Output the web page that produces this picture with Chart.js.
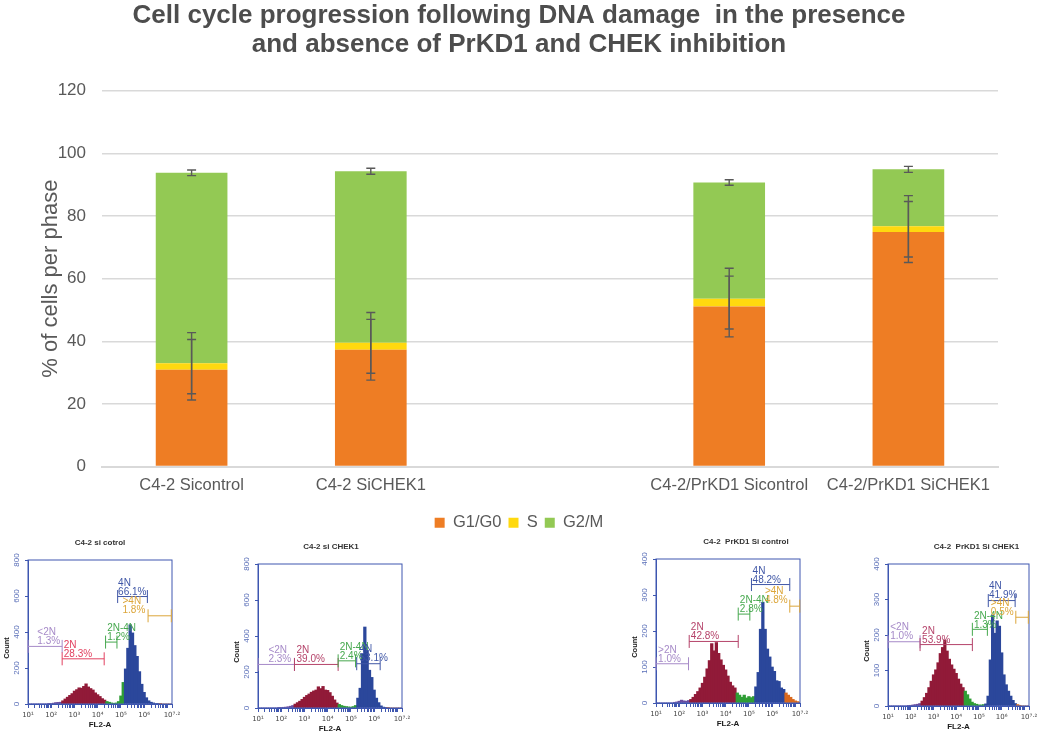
<!DOCTYPE html>
<html>
<head>
<meta charset="utf-8">
<title>Cell cycle progression</title>
<script src="https://cdn.jsdelivr.net/npm/chart.js@4"></script>
<style>
body { margin: 0; background: #fff; }
canvas { position: absolute; }
.hist { filter: blur(0.3px); }
</style>
</head>
<body>
<canvas id="mainChart" width="1040" height="541" style="left:0;top:0"></canvas>
<canvas id="hist1" class="hist"></canvas>
<canvas id="hist2" class="hist"></canvas>
<canvas id="hist3" class="hist"></canvas>
<canvas id="hist4" class="hist"></canvas>
<script>
"use strict";

const categories = ["C4-2 Sicontrol", "C4-2 SiCHEK1", "", "C4-2/PrKD1 Sicontrol", "C4-2/PrKD1 SiCHEK1"];
const g1Values = [30.9, 37.3, null, 51.1, 74.9];
const sValues = [2.1, 2.2, null, 2.5, 1.8];
const g2Values = [60.8, 54.8, null, 37.1, 18.2];
const g1Errors = [9.65, 9.7, null, 9.7, 9.75];
const sErrors = [9.75, 9.7, null, 9.7, 9.8];
const g2Errors = [0.9, 0.95, null, 0.9, 0.95];

const histBins = [
    1.0, 1.1, 1.2, 1.3, 1.4, 1.5, 1.6, 1.7, 1.8, 1.9,
    2.0, 2.1, 2.2, 2.3, 2.4, 2.5, 2.6, 2.7, 2.8, 2.9,
    3.0, 3.1, 3.2, 3.3, 3.4, 3.5, 3.6, 3.7, 3.8, 3.9,
    4.0, 4.1, 4.2, 4.3, 4.4, 4.5, 4.6, 4.7, 4.8, 4.9,
    5.0, 5.1, 5.2, 5.3, 5.4, 5.5, 5.6, 5.7, 5.8, 5.9,
    6.0, 6.1, 6.2, 6.3, 6.4, 6.5, 6.6, 6.7, 6.8, 6.9,
    7.0, 7.1, 7.2
];
const siControlCounts = [
    0, 0, 0, 0, 0, 0, 0, 0, 0, 1,
    3, 5, 8, 9, 10, 18, 28, 38, 48, 58,
    72, 80, 90, 88, 98, 112, 95, 86, 78, 62,
    52, 42, 30, 22, 14, 10, 6, 4, 6, 14,
    45, 120, 195, 310, 440, 395, 325, 265, 180, 110,
    65, 35, 18, 10, 6, 3, 2, 1, 0, 0,
    0, 0, 0
];
const siChekCounts = [
    0, 0, 0, 0, 0, 0, 0, 0, 0, 1,
    2, 4, 5, 7, 10, 14, 22, 30, 38, 48,
    60, 70, 78, 88, 95, 100, 118, 108, 120, 100,
    98, 86, 66, 45, 28, 20, 14, 10, 8, 6,
    5, 8, 14, 55, 110, 300, 450, 320, 210, 170,
    100, 55, 30, 12, 5, 2, 1, 0, 0, 0,
    0, 0, 0
];
const prkdControlCounts = [
    0, 0, 0, 0, 0, 0, 0, 0, 2, 3,
    5, 8, 6, 5, 7, 10, 16, 24, 32, 42,
    55, 72, 95, 118, 165, 145, 168, 138, 120, 105,
    92, 75, 58, 48, 42, 28, 22, 16, 22, 14,
    18, 15, 18, 45, 85, 205, 280, 205, 150, 128,
    100, 88, 62, 60, 42, 38, 28, 22, 16, 10,
    6, 4, 2
];
const prkdChekCounts = [
    0, 0, 0, 0, 0, 0, 0, 0, 0, 1,
    2, 3, 4, 5, 7, 14, 24, 36, 52, 70,
    88, 102, 122, 148, 165, 186, 155, 132, 116, 104,
    92, 76, 62, 52, 42, 32, 20, 11, 7, 5,
    3, 3, 4, 6, 28, 130, 255, 205, 240, 225,
    150, 88, 60, 42, 28, 16, 7, 4, 2, 0,
    0, 0, 0
];

// where the fill changes: sub-2N, 2N, 2N-4N, 4N, then >4N
const siControlRegions = [2.47, 4.4, 5.15, 6.7];
const siChekRegions = [2.55, 4.42, 5.22, 6.6];
const prkdControlRegions = [2.47, 4.42, 5.25, 6.6];
const prkdChekRegions = [2.42, 4.4, 5.3, 6.7];

// gate: [name, percent, from, to, level, label x, label y]
const siControlGates = [
    ["<2N", "1.3%", 1.0, 2.47, 320, 1.4, 333],
    ["2N", "28.3%", 2.47, 4.28, 251, 2.54, 262],
    ["2N-4N", "1.2%", 4.34, 4.83, 344, 4.41, 358],
    ["4N", "66.1%", 4.86, 6.14, 597, 4.88, 606],
    [">4N", "1.8%", 6.17, 7.17, 490, 5.07, 504]
];
const siChekGates = [
    ["<2N", "2.3%", 1.0, 2.57, 242, 1.45, 255],
    ["2N", "39.0%", 2.57, 4.45, 242, 2.66, 255],
    ["2N-4N", "2.4%", 4.45, 5.2, 262, 4.52, 272],
    ["4N", "53.1%", 5.25, 6.26, 246, 5.37, 259]
];
const prkdControlGates = [
    [">2N", "1.0%", 1.0, 2.4, 109, 1.09, 115],
    ["2N", "42.8%", 2.43, 4.54, 171, 2.5, 177],
    ["2N-4N", "2.8%", 4.54, 5.04, 247, 4.61, 253],
    ["4N", "48.2%", 5.11, 6.76, 329, 5.16, 334],
    [">4N", "4.8%", 6.76, 7.19, 269, 5.69, 278]
];
const prkdChekGates = [
    ["<2N", "1.0%", 1.0, 2.41, 181, 1.1, 188],
    ["2N", "53.9%", 2.41, 4.71, 173, 2.5, 178],
    ["2N-4N", "1.3%", 4.71, 5.37, 216, 4.78, 221],
    ["4N", "41.9%", 5.41, 6.59, 297, 5.44, 304],
    [">4N", "0.5%", 6.62, 7.17, 250, 5.52, 256]
];

const decadeTicks = [1, 2, 3, 4, 5, 6, 7.2];
const decadeLabels = ["10¹", "10²", "10³", "10⁴", "10⁵", "10⁶", "10⁷·²"];

const gateColors = { "<2N": "#a68ac8", ">2N": "#a68ac8", "2N": "#b5436a", "2N-4N": "#46a84e", "4N": "#3f56a6", ">4N": "#dca63a" };
const fillColors = ["#6a4da0", "#911a38", "#2f9e35", "#2b479b", "#d9691e"];
const axisBlue = "#3f57b0";

const errorBars = {
    id: "errorBars",
    afterDatasetsDraw(chart) {
        const { ctx, scales } = chart;
        const capHalf = 4.5;
        const errorSets = [g1Errors, sErrors, g2Errors];
        const bars = chart.getDatasetMeta(0).data;
        ctx.save();
        ctx.strokeStyle = "#595959";
        ctx.lineWidth = 1.4;
        categories.forEach((name, i) => {
            if (!name) return;
            let level = 0;
            [g1Values, sValues, g2Values].forEach((series, k) => {
                level += series[i];
                const x = bars[i].x;
                const top = scales.y.getPixelForValue(level + errorSets[k][i]);
                const bottom = scales.y.getPixelForValue(level - errorSets[k][i]);
                ctx.beginPath();
                ctx.moveTo(x, top);
                ctx.lineTo(x, bottom);
                ctx.moveTo(x - capHalf, top);
                ctx.lineTo(x + capHalf, top);
                ctx.moveTo(x - capHalf, bottom);
                ctx.lineTo(x + capHalf, bottom);
                ctx.stroke();
            });
        });
        ctx.restore();
    }
};

new Chart(document.getElementById("mainChart"), {
    type: "bar",
    data: {
        labels: categories,
        datasets: [
            { label: "G1/G0", data: g1Values, backgroundColor: "#EE7D24" },
            { label: "S", data: sValues, backgroundColor: "#FFD90F" },
            { label: "G2/M", data: g2Values, backgroundColor: "#93C954" }
        ]
    },
    options: {
        responsive: false,
        animation: false,
        datasets: { bar: { barPercentage: 0.4, categoryPercentage: 1 } },
        layout: { padding: { top: 0, right: 42, bottom: 0, left: 40 } },
        plugins: {
            title: {
                display: true,
                text: ["Cell cycle progression following DNA damage  in the presence", "and absence of PrKD1 and CHEK inhibition"],
                color: "#4d4d4d",
                font: { family: "Liberation Sans", size: 26, weight: "bold", lineHeight: 1.13 },
                padding: { top: 1, bottom: 31 }
            },
            legend: {
                position: "bottom",
                labels: {
                    color: "#595959",
                    font: { family: "Liberation Sans", size: 16.5 },
                    boxWidth: 10,
                    boxHeight: 10,
                    padding: 7
                }
            },
            tooltip: { enabled: false }
        },
        scales: {
            x: {
                stacked: true,
                grid: { display: false },
                border: { color: "#d9d9d9", width: 2 },
                ticks: {
                    color: "#595959",
                    padding: 1,
                    font: { family: "Liberation Sans", size: 16.5 },
                    maxRotation: 0,
                    autoSkip: false
                },
                afterFit: (scale) => { scale.height = 41; }
            },
            y: {
                stacked: true,
                min: 0,
                max: 120,
                grid: { color: "#d9d9d9", lineWidth: 1.5, drawTicks: false },
                border: { display: false },
                ticks: {
                    stepSize: 20,
                    color: "#595959",
                    padding: 16,
                    font: { family: "Liberation Sans", size: 17 }
                },
                title: {
                    display: true,
                    text: "% of cells per phase",
                    color: "#595959",
                    font: { family: "Liberation Sans", size: 22, lineHeight: 1 },
                    padding: { top: 0, bottom: 0 }
                },
                afterFit: (scale) => { scale.width = 62; }
            }
        }
    },
    plugins: [errorBars]
});

// gates and their labels, the plot frame, rotated count ticks and the off-centre headings
const histOverlay = {
    id: "histOverlay",
    afterDatasetsDraw(chart, args, opts) {
        const { ctx, chartArea, scales } = chart;
        const middleX = (chartArea.left + chartArea.right) / 2;
        ctx.save();
        ctx.strokeStyle = axisBlue;
        ctx.lineWidth = 1;
        ctx.strokeRect(chartArea.left, chartArea.top, chartArea.width, chartArea.height);
        ctx.font = "10px 'Liberation Sans'";
        opts.gates.forEach(([name, pct, from, to, level, labelX, labelY]) => {
            const color = name === "2N" && opts.brightRed ? "#e2405f" : gateColors[name];
            const left = scales.x.getPixelForValue(from);
            const right = scales.x.getPixelForValue(to);
            const y = scales.y.getPixelForValue(level);
            ctx.strokeStyle = color;
            ctx.fillStyle = color;
            ctx.beginPath();
            ctx.moveTo(left, y);
            ctx.lineTo(right, y);
            ctx.moveTo(left, y - 6.5);
            ctx.lineTo(left, y + 6.5);
            ctx.moveTo(right, y - 6.5);
            ctx.lineTo(right, y + 6.5);
            ctx.stroke();
            const textX = scales.x.getPixelForValue(labelX);
            const textY = scales.y.getPixelForValue(labelY);
            ctx.fillText(name, textX, textY - 9);
            ctx.fillText(pct, textX, textY);
        });

        ctx.textAlign = "center";
        ctx.fillStyle = "#333";
        ctx.font = "bold 8px 'Liberation Sans'";
        ctx.fillText(opts.heading, middleX + opts.headingShift, chartArea.top - 15);

        ctx.font = "8px 'Liberation Sans'";
        ctx.fillStyle = "#5a6fb8";
        ctx.textBaseline = "middle";
        scales.y.ticks.forEach((tick) => {
            ctx.save();
            ctx.translate(chartArea.left - 11, scales.y.getPixelForValue(tick.value));
            ctx.rotate(-Math.PI / 2);
            ctx.fillText(tick.label, 0, 0);
            ctx.restore();
        });

        ctx.fillStyle = "#1a1a1a";
        ctx.font = "bold 7.5px 'Liberation Sans'";
        ctx.textBaseline = "alphabetic";
        ctx.translate(chartArea.left - 19.5, (chartArea.top + chartArea.bottom) / 2 + 16);
        ctx.rotate(-Math.PI / 2);
        ctx.fillText("Count", 0, 0);
        ctx.restore();
    }
};

const makeHist = (id, plot, heading, headingShift, counts, yMax, yStep, regions, gates, brightRed) => {
    const canvas = document.getElementById(id);
    const padLeft = 25, padTop = 25, padRight = 10, padBottom = 27;
    canvas.width = plot.width + padLeft + padRight;
    canvas.height = plot.height + padTop + padBottom;
    canvas.style.left = (plot.left - padLeft) + "px";
    canvas.style.top = (plot.top - padTop) + "px";

    const tickValues = [];
    for (let d = 1; d <= 7; d++) {
        for (let m = 1; m <= 9; m++) {
            const v = d + Math.log10(m);
            if (v <= 7.2) tickValues.push(v);
        }
    }
    tickValues.push(7.2);

    new Chart(canvas, {
        type: "bar",
        data: {
            datasets: [{
                data: histBins.map((x, i) => ({ x: x, y: counts[i] })),
                backgroundColor: (c) => {
                    const x = histBins[c.dataIndex];
                    const region = regions.findIndex((end) => x < end);
                    return fillColors[region === -1 ? 4 : region];
                },
                barThickness: plot.width / 62 + 0.3
            }]
        },
        options: {
            responsive: false,
            animation: false,
            layout: { padding: { top: padTop, right: padRight } },
            plugins: {
                legend: { display: false },
                tooltip: { enabled: false },
                histOverlay: { gates: gates, brightRed: brightRed, heading: heading, headingShift: headingShift }
            },
            scales: {
                x: {
                    type: "linear",
                    min: 1,
                    max: 7.2,
                    offset: false,
                    grid: { offset: false, drawOnChartArea: false, color: axisBlue, tickLength: 4 },
                    border: { color: axisBlue },
                    afterBuildTicks: (scale) => { scale.ticks = tickValues.map((v) => ({ value: v })); },
                    ticks: {
                        autoSkip: false,
                        maxRotation: 0,
                        padding: 3,
                        color: "#444",
                        font: { family: "DejaVu Sans", size: 7 },
                        callback: (v) => {
                            const at = decadeTicks.findIndex((t) => Math.abs(t - v) < 0.001);
                            return at === -1 ? "" : decadeLabels[at];
                        }
                    },
                    title: {
                        display: true,
                        text: "FL2-A",
                        color: "#1a1a1a",
                        font: { family: "Liberation Sans", size: 8, weight: "bold", lineHeight: 1 },
                        padding: { top: 0, bottom: 2 }
                    },
                    afterFit: (scale) => {
                        scale.height = padBottom;
                        scale.paddingLeft = 0;
                        scale.paddingRight = 0;
                    }
                },
                y: {
                    min: 0,
                    max: yMax,
                    grid: { drawOnChartArea: false, color: axisBlue, tickLength: 3 },
                    border: { color: axisBlue },
                    ticks: { display: false, stepSize: yStep },
                    afterFit: (scale) => { scale.width = padLeft; }
                }
            }
        },
        plugins: [histOverlay]
    });
};

makeHist("hist1", { left: 28, top: 560, width: 144, height: 144 }, "C4-2 si cotrol", 0, siControlCounts, 800, 200, siControlRegions, siControlGates, true);
makeHist("hist2", { left: 258, top: 564, width: 144, height: 144 }, "C4-2 si CHEK1", 1, siChekCounts, 800, 200, siChekRegions, siChekGates, false);
makeHist("hist3", { left: 656, top: 559, width: 144, height: 144 }, "C4-2  PrKD1 Si control", 18, prkdControlCounts, 400, 100, prkdControlRegions, prkdControlGates, false);
makeHist("hist4", { left: 888, top: 564, width: 141, height: 142 }, "C4-2  PrKD1 Si CHEK1", 18, prkdChekCounts, 400, 100, prkdChekRegions, prkdChekGates, false);
</script>
</body>
</html>
